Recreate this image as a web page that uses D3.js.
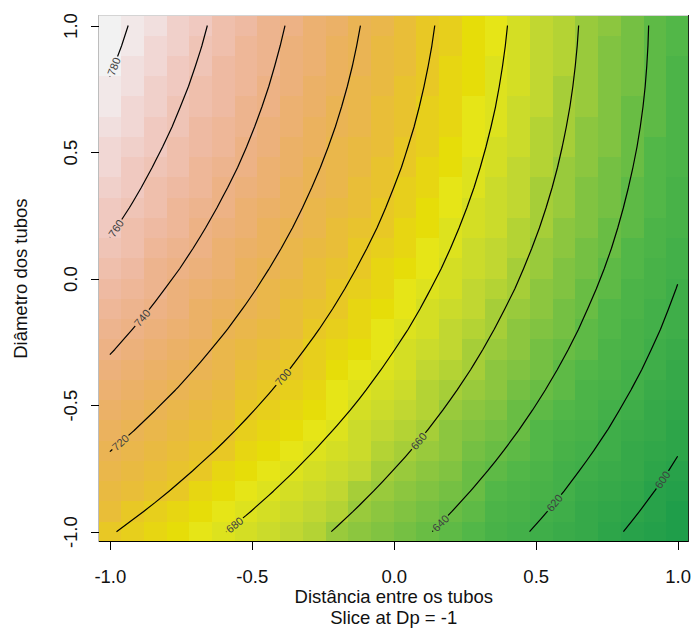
<!DOCTYPE html>
<html>
<head>
<meta charset="utf-8">
<script src="https://cdn.jsdelivr.net/npm/d3@7"></script>
<style>
  html, body { margin: 0; padding: 0; background: #ffffff; }
  svg { display: block; font-family: "Liberation Sans", Arial, sans-serif; }
</style>
</head>
<body>
<svg id="chart" width="691" height="628"></svg>
<script>
// Coded levels of the two factors on the prediction grid
const distGrid = [-1, -0.92, -0.84, -0.76, -0.68, -0.6, -0.52, -0.44, -0.36, -0.28, -0.2, -0.12, -0.04,
                  0.04, 0.12, 0.2, 0.28, 0.36, 0.44, 0.52, 0.6, 0.68, 0.76, 0.84, 0.92, 1];
const diamGrid = [-1, -0.92, -0.84, -0.76, -0.68, -0.6, -0.52, -0.44, -0.36, -0.28, -0.2, -0.12, -0.04,
                  0.04, 0.12, 0.2, 0.28, 0.36, 0.44, 0.52, 0.6, 0.68, 0.76, 0.84, 0.92, 1];

// Predicted response at Dp = -1: one row per Diâmetro level (bottom to top),
// one column per Distância level (left to right)
const responseRows = [
  [701.2, 697.1, 693.0, 688.9, 684.7, 680.5, 676.3, 672.0, 667.7, 663.3, 658.9, 654.4, 650.0, 645.4, 640.9, 636.3, 631.6, 627.0, 622.3, 617.5, 612.7, 607.9, 603.0, 598.1, 593.2, 588.2],
  [706.2, 702.0, 697.9, 693.7, 689.4, 685.2, 680.9, 676.5, 672.1, 667.7, 663.2, 658.7, 654.2, 649.6, 644.9, 640.3, 635.6, 630.8, 626.1, 621.3, 616.4, 611.5, 606.6, 601.6, 596.6, 591.6],
  [711.0, 706.8, 702.6, 698.3, 694.0, 689.7, 685.3, 680.9, 676.4, 671.9, 667.4, 662.8, 658.2, 653.6, 648.9, 644.2, 639.4, 634.6, 629.7, 624.9, 620.0, 615.0, 610.0, 605.0, 599.9, 594.8],
  [715.7, 711.4, 707.1, 702.8, 698.4, 694.0, 689.6, 685.1, 680.6, 676.0, 671.4, 666.8, 662.1, 657.4, 652.7, 647.9, 643.1, 638.2, 633.3, 628.3, 623.4, 618.3, 613.3, 608.2, 603.1, 597.9],
  [720.2, 715.9, 711.6, 707.2, 702.7, 698.3, 693.8, 689.2, 684.6, 680.0, 675.4, 670.7, 665.9, 661.2, 656.3, 651.5, 646.6, 641.7, 636.7, 631.7, 626.6, 621.6, 616.4, 611.3, 606.1, 600.8],
  [724.7, 720.3, 715.9, 711.4, 706.9, 702.4, 697.8, 693.2, 688.6, 683.9, 679.1, 674.4, 669.6, 664.7, 659.9, 654.9, 650.0, 645.0, 640.0, 634.9, 629.8, 624.6, 619.5, 614.2, 609.0, 603.7],
  [729.0, 724.5, 720.0, 715.5, 710.9, 706.4, 701.7, 697.0, 692.3, 687.6, 682.8, 678.0, 673.1, 668.2, 663.3, 658.3, 653.2, 648.2, 643.1, 638.0, 632.8, 627.6, 622.3, 617.0, 611.7, 606.4],
  [733.1, 728.6, 724.0, 719.5, 714.8, 710.2, 705.5, 700.7, 696.0, 691.1, 686.3, 681.4, 676.5, 671.5, 666.5, 661.5, 656.4, 651.3, 646.1, 640.9, 635.7, 630.4, 625.1, 619.7, 614.3, 608.9],
  [737.1, 732.5, 727.9, 723.3, 718.6, 713.9, 709.1, 704.3, 699.5, 694.6, 689.7, 684.7, 679.7, 674.7, 669.6, 664.5, 659.4, 654.2, 649.0, 643.7, 638.4, 633.1, 627.7, 622.3, 616.8, 611.3],
  [741.0, 736.4, 731.7, 727.0, 722.2, 717.4, 712.6, 707.7, 702.8, 697.9, 692.9, 687.9, 682.8, 677.7, 672.6, 667.4, 662.2, 657.0, 651.7, 646.4, 641.0, 635.6, 630.2, 624.7, 619.1, 613.6],
  [744.7, 740.0, 735.3, 730.5, 725.7, 720.9, 716.0, 711.0, 706.1, 701.1, 696.0, 690.9, 685.8, 680.7, 675.5, 670.2, 664.9, 659.6, 654.3, 648.9, 643.5, 638.0, 632.5, 626.9, 621.4, 615.7],
  [748.3, 743.6, 738.8, 733.9, 729.1, 724.1, 719.2, 714.2, 709.2, 704.1, 699.0, 693.8, 688.7, 683.4, 678.2, 672.9, 667.5, 662.1, 656.7, 651.3, 645.8, 640.2, 634.7, 629.1, 623.4, 617.7],
  [751.8, 747.0, 742.1, 737.2, 732.3, 727.3, 722.3, 717.2, 712.1, 707.0, 701.8, 696.6, 691.4, 686.1, 680.7, 675.4, 670.0, 664.5, 659.1, 653.5, 648.0, 642.4, 636.7, 631.1, 625.4, 619.6],
  [755.2, 750.3, 745.3, 740.4, 735.4, 730.3, 725.2, 720.1, 714.9, 709.7, 704.5, 699.2, 693.9, 688.6, 683.2, 677.8, 672.3, 666.8, 661.2, 655.7, 650.0, 644.4, 638.7, 632.9, 627.2, 621.4],
  [758.4, 753.4, 748.4, 743.4, 738.3, 733.2, 728.0, 722.9, 717.6, 712.4, 707.1, 701.7, 696.4, 690.9, 685.5, 680.0, 674.5, 668.9, 663.3, 657.6, 652.0, 646.2, 640.5, 634.7, 628.8, 623.0],
  [761.4, 756.4, 751.3, 746.2, 741.1, 735.9, 730.7, 725.5, 720.2, 714.9, 709.5, 704.1, 698.7, 693.2, 687.7, 682.1, 676.5, 670.9, 665.2, 659.5, 653.7, 647.9, 642.1, 636.3, 630.4, 624.4],
  [764.3, 759.3, 754.1, 749.0, 743.8, 738.5, 733.3, 728.0, 722.6, 717.2, 711.8, 706.3, 700.8, 695.3, 689.7, 684.1, 678.4, 672.7, 667.0, 661.2, 655.4, 649.5, 643.6, 637.7, 631.7, 625.7],
  [767.1, 762.0, 756.8, 751.6, 746.3, 741.0, 735.7, 730.3, 724.9, 719.4, 713.9, 708.4, 702.8, 697.2, 691.6, 685.9, 680.2, 674.4, 668.6, 662.8, 656.9, 651.0, 645.0, 639.0, 633.0, 626.9],
  [769.8, 764.6, 759.3, 754.1, 748.7, 743.4, 738.0, 732.5, 727.0, 721.5, 716.0, 710.4, 704.7, 699.1, 693.3, 687.6, 681.8, 676.0, 670.1, 664.2, 658.3, 652.3, 646.3, 640.2, 634.1, 628.0],
  [772.3, 767.0, 761.7, 756.4, 751.0, 745.6, 740.1, 734.6, 729.0, 723.5, 717.8, 712.2, 706.5, 700.7, 695.0, 689.2, 683.3, 677.4, 671.5, 665.5, 659.5, 653.5, 647.4, 641.3, 635.1, 628.9],
  [774.7, 769.4, 764.0, 758.6, 753.1, 747.6, 742.1, 736.5, 730.9, 725.3, 719.6, 713.9, 708.1, 702.3, 696.5, 690.6, 684.7, 678.7, 672.7, 666.7, 660.6, 654.5, 648.4, 642.2, 636.0, 629.7],
  [777.0, 771.6, 766.1, 760.6, 755.1, 749.6, 744.0, 738.3, 732.7, 726.9, 721.2, 715.4, 709.6, 703.7, 697.8, 691.9, 685.9, 679.9, 673.8, 667.7, 661.6, 655.4, 649.2, 643.0, 636.7, 630.4],
  [779.1, 773.6, 768.1, 762.6, 757.0, 751.3, 745.7, 740.0, 734.3, 728.5, 722.7, 716.8, 710.9, 705.0, 699.0, 693.0, 687.0, 680.9, 674.8, 668.6, 662.4, 656.2, 649.9, 643.6, 637.3, 630.9],
  [781.0, 775.5, 769.9, 764.3, 758.7, 753.0, 747.3, 741.5, 735.7, 729.9, 724.0, 718.1, 712.1, 706.1, 700.1, 694.0, 687.9, 681.8, 675.6, 669.4, 663.1, 656.8, 650.5, 644.1, 637.7, 631.2],
  [782.9, 777.3, 771.7, 766.0, 760.3, 754.5, 748.7, 742.9, 737.1, 731.1, 725.2, 719.2, 713.2, 707.2, 701.1, 694.9, 688.8, 682.6, 676.3, 670.0, 663.7, 657.3, 650.9, 644.5, 638.0, 631.5],
  [784.6, 778.9, 773.2, 767.5, 761.7, 755.9, 750.1, 744.2, 738.3, 732.3, 726.3, 720.2, 714.2, 708.0, 701.9, 695.7, 689.4, 683.2, 676.9, 670.5, 664.1, 657.7, 651.2, 644.7, 638.2, 631.6]
];

const contourLevels = [600, 620, 640, 660, 680, 700, 720, 740, 760, 780];
const xTickValues = [-1, -0.5, 0, 0.5, 1];
const xTickLabels = ["-1.0", "-0.5", "0.0", "0.5", "1.0"];
const yTickValues = [-1, -0.5, 0, 0.5, 1];
const yTickLabels = ["-1.0", "-0.5", "0.0", "0.5", "1.0"];
const xTitle = "Distância entre os tubos";
const yTitle = "Diâmetro dos tubos";
const subTitle = "Slice at Dp = -1";

// ---- layout ----
const W = 691, H = 628;
const frame = { left: 98.5, right: 689, top: 15.4, bottom: 541.8 };
const fontSize = 18.5;
const labelFont = 11;
// where each contour label sits: distance (px) back along the line from its lower end
const labelOffset = { 600: 65, 620: 38, 640: 12, 660: 126, 680: 11, 700: 228, 720: 14, 740: 49, 760: 11, 780: 11 };

const svg = d3.select("#chart");
const halfX = (distGrid[1] - distGrid[0]) / 2;
const halfY = (diamGrid[1] - diamGrid[0]) / 2;
const x = d3.scaleLinear()
  .domain([distGrid[0] - halfX, distGrid[distGrid.length - 1] + halfX])
  .range([frame.left, frame.right]);
const y = d3.scaleLinear()
  .domain([diamGrid[0] - halfY, diamGrid[diamGrid.length - 1] + halfY])
  .range([frame.bottom, frame.top]);

// Palette of 50 steps: a muted green -> yellow ramp for the lower half,
// then yellow -> tan -> near white (hue 60 -> 0, fading saturation) for the upper half
function hsvHex(h, s, v) {
  const h6 = h * 6, i = Math.floor(h6), f = h6 - i;
  const p = v * (1 - s), q = v * (1 - f * s), t = v * (1 - (1 - f) * s);
  let r, g, b;
  switch (((i % 6) + 6) % 6) {
    case 0: r = v; g = t; b = p; break;
    case 1: r = q; g = v; b = p; break;
    case 2: r = p; g = v; b = t; break;
    case 3: r = p; g = q; b = v; break;
    case 4: r = t; g = p; b = v; break;
    default: r = v; g = p; b = q;
  }
  return d3.rgb(r * 255, g * 255, b * 255).formatHex();
}
function surfaceColors(n) {
  const k = Math.floor(n / 2);
  const seq = (a, b, len) => d3.range(len).map(i => len === 1 ? a : a + (b - a) * i / (len - 1));
  const greens = d3.scaleLinear()
    .domain([0, 0.45, 0.67, 0.84, 1])
    .range(["#1f9e4a", "#50b648", "#8dc63f", "#c3d830", "#e6e517"])
    .interpolate(d3.interpolateRgb);
  const lower = d3.range(k).map(i => d3.color(greens(i / (k - 1))).formatHex());
  const h2 = seq(2 / 12, 0, n - k + 1).slice(1), s2 = seq(1, 0, n - k + 1).slice(1), v2 = seq(0.9, 0.95, n - k + 1).slice(1);
  return lower.concat(h2.map((h, i) => hsvHex(h, s2[i], v2[i])));
}

const cells = [];
responseRows.forEach((row, j) => row.forEach((v, i) => cells.push({ i, j, v })));
const color = d3.scaleQuantize().domain(d3.extent(cells, d => d.v)).range(surfaceColors(50));

// ---- image cells ----
svg.append("g")
  .selectAll("rect")
  .data(cells)
  .join("rect")
  .attr("x", d => x(distGrid[d.i] - halfX))
  .attr("y", d => y(diamGrid[d.j] + halfY))
  .attr("width", d => x(distGrid[d.i] + halfX) - x(distGrid[d.i] - halfX))
  .attr("height", d => y(diamGrid[d.j] - halfY) - y(diamGrid[d.j] + halfY))
  .attr("fill", d => color(d.v))
  .attr("shape-rendering", "crispEdges");

// ---- contour tracing (marching squares over the grid nodes) ----
function traceLevel(level) {
  const nx = distGrid.length, ny = diamGrid.length;
  const val = (i, j) => responseRows[j][i];
  const pos = new Map(), links = new Map();
  function edge(a, b) {
    if (a[0] > b[0] || a[1] > b[1]) [a, b] = [b, a];
    const key = (a[0] === b[0] ? "v" : "h") + a[0] + "," + a[1];
    if (!pos.has(key)) {
      const va = val(a[0], a[1]), vb = val(b[0], b[1]);
      const t = (level - va) / (vb - va);
      pos.set(key, [
        distGrid[a[0]] + t * (distGrid[b[0]] - distGrid[a[0]]),
        diamGrid[a[1]] + t * (diamGrid[b[1]] - diamGrid[a[1]])
      ]);
    }
    return key;
  }
  function connect(p, q) {
    if (!links.has(p)) links.set(p, []);
    if (!links.has(q)) links.set(q, []);
    links.get(p).push(q);
    links.get(q).push(p);
  }
  for (let j = 0; j < ny - 1; j++) {
    for (let i = 0; i < nx - 1; i++) {
      const c = [[i, j], [i + 1, j], [i + 1, j + 1], [i, j + 1]];
      const up = c.map(n => val(n[0], n[1]) > level);
      const ids = [];
      for (let e = 0; e < 4; e++) {
        if (up[e] !== up[(e + 1) % 4]) ids.push(edge(c[e], c[(e + 1) % 4]));
        else ids.push(null);
      }
      const hits = ids.filter(Boolean);
      if (hits.length === 2) connect(hits[0], hits[1]);
      else if (hits.length === 4) {
        const centre = d3.mean(c, n => val(n[0], n[1])) > level;
        if (centre === up[0]) { connect(ids[0], ids[1]); connect(ids[2], ids[3]); }
        else { connect(ids[3], ids[0]); connect(ids[1], ids[2]); }
      }
    }
  }
  const used = new Set(), lines = [];
  const starts = [...links.keys()].filter(k => links.get(k).length === 1).concat([...links.keys()]);
  for (const s of starts) {
    if (used.has(s)) continue;
    const chain = [s];
    used.add(s);
    let cur = s;
    for (;;) {
      const nxt = links.get(cur).find(k => !used.has(k));
      if (!nxt) break;
      used.add(nxt);
      chain.push(nxt);
      cur = nxt;
    }
    lines.push(chain.map(k => pos.get(k)));
  }
  return lines;
}

const defs = svg.append("defs");
const gapMask = defs.append("mask")
  .attr("id", "label-gaps")
  .attr("maskUnits", "userSpaceOnUse")
  .attr("x", 0).attr("y", 0).attr("width", W).attr("height", H);
gapMask.append("rect").attr("width", W).attr("height", H).attr("fill", "white");

const lineGen = d3.line().x(d => x(d[0])).y(d => y(d[1]));
const contourG = svg.append("g").attr("mask", "url(#label-gaps)");
const labelG = svg.append("g");

function pointAt(screenPts, cum, dist) {
  dist = Math.max(0, Math.min(cum[cum.length - 1], dist));
  const k = d3.bisectLeft(cum, dist);
  if (k <= 0) return screenPts[0];
  const seg = cum[k] - cum[k - 1] || 1, t = (dist - cum[k - 1]) / seg;
  return [screenPts[k - 1][0] + t * (screenPts[k][0] - screenPts[k - 1][0]),
          screenPts[k - 1][1] + t * (screenPts[k][1] - screenPts[k - 1][1])];
}

contourLevels.forEach(level => {
  traceLevel(level).forEach(line => {
    // run each line from its upper end to its lower end
    if (y(line[0][1]) > y(line[line.length - 1][1])) line.reverse();
    contourG.append("path")
      .attr("d", lineGen(line))
      .attr("fill", "none")
      .attr("stroke", "#000")
      .attr("stroke-width", 1.2)
      .attr("stroke-linejoin", "round");

    const pts = line.map(d => [x(d[0]), y(d[1])]);
    const cum = [0];
    for (let k = 1; k < pts.length; k++) cum.push(cum[k - 1] + Math.hypot(pts[k][0] - pts[k - 1][0], pts[k][1] - pts[k - 1][1]));
    const total = cum[cum.length - 1];
    const at = total - labelOffset[level];
    const p = pointAt(pts, cum, at);
    const p0 = pointAt(pts, cum, at - 6), p1 = pointAt(pts, cum, at + 6);
    let ang = Math.atan2(p1[1] - p0[1], p1[0] - p0[0]) * 180 / Math.PI;
    if (ang > 90) ang -= 180;
    if (ang <= -90) ang += 180;
    const txt = labelG.append("text")
      .attr("transform", `translate(${p[0]},${p[1]}) rotate(${ang})`)
      .attr("text-anchor", "middle")
      .attr("dominant-baseline", "central")
      .attr("font-size", labelFont)
      .attr("fill", "#3d4040")
      .text(String(level));
    const w = txt.node().getComputedTextLength() + 3;
    gapMask.append("rect")
      .attr("x", -w / 2).attr("y", -labelFont * 0.45)
      .attr("width", w).attr("height", labelFont * 0.9)
      .attr("transform", `translate(${p[0]},${p[1]}) rotate(${ang})`)
      .attr("fill", "black");
  });
});

// ---- frame ----
const frameG = svg.append("g").attr("shape-rendering", "crispEdges");
frameG.append("line").attr("x1", frame.left).attr("x2", frame.right).attr("y1", frame.top).attr("y2", frame.top)
  .attr("stroke", "#d4d4d4");
frameG.append("line").attr("x1", frame.left).attr("x2", frame.left).attr("y1", frame.top).attr("y2", frame.bottom)
  .attr("stroke", "#bdbdbd");
frameG.append("line").attr("x1", frame.left).attr("x2", frame.right).attr("y1", frame.bottom).attr("y2", frame.bottom)
  .attr("stroke", "#000");
frameG.append("line").attr("x1", frame.right - 0.5).attr("x2", frame.right - 0.5).attr("y1", frame.top).attr("y2", frame.bottom)
  .attr("stroke", "#222");

// ---- axes ----
const xAxis = svg.append("g")
  .attr("transform", `translate(0,${frame.bottom})`)
  .call(d3.axisBottom(x).tickValues(xTickValues).tickSize(8).tickFormat((d, i) => xTickLabels[i]));
xAxis.select(".domain").remove();
xAxis.selectAll(".tick line").attr("stroke", "#000").attr("shape-rendering", "crispEdges");
xAxis.selectAll(".tick text")
  .attr("y", 41.2).attr("dy", null)
  .attr("font-size", fontSize).attr("font-family", "Liberation Sans, Arial, sans-serif")
  .attr("fill", "#111");

const yAxis = svg.append("g")
  .attr("transform", `translate(${frame.left},0)`)
  .call(d3.axisLeft(y).tickValues(yTickValues).tickSize(8).tickFormat((d, i) => yTickLabels[i]));
yAxis.select(".domain").remove();
yAxis.selectAll(".tick line").attr("stroke", "#000").attr("shape-rendering", "crispEdges");
yAxis.selectAll(".tick text")
  .attr("x", null).attr("dy", null)
  .attr("transform", `translate(${77 - frame.left},0) rotate(-90)`)
  .attr("text-anchor", "middle")
  .attr("font-size", fontSize).attr("font-family", "Liberation Sans, Arial, sans-serif")
  .attr("fill", "#111");

// ---- titles ----
const midX = (frame.left + frame.right) / 2;
svg.append("text").attr("x", midX).attr("y", 603).attr("text-anchor", "middle")
  .attr("font-size", fontSize).attr("fill", "#111").text(xTitle);
svg.append("text").attr("x", midX).attr("y", 623.5).attr("text-anchor", "middle")
  .attr("font-size", fontSize).attr("fill", "#111").text(subTitle);
svg.append("text")
  .attr("transform", `translate(27,${(frame.top + frame.bottom) / 2}) rotate(-90)`)
  .attr("text-anchor", "middle")
  .attr("font-size", fontSize).attr("fill", "#111").text(yTitle);
</script>
</body>
</html>
